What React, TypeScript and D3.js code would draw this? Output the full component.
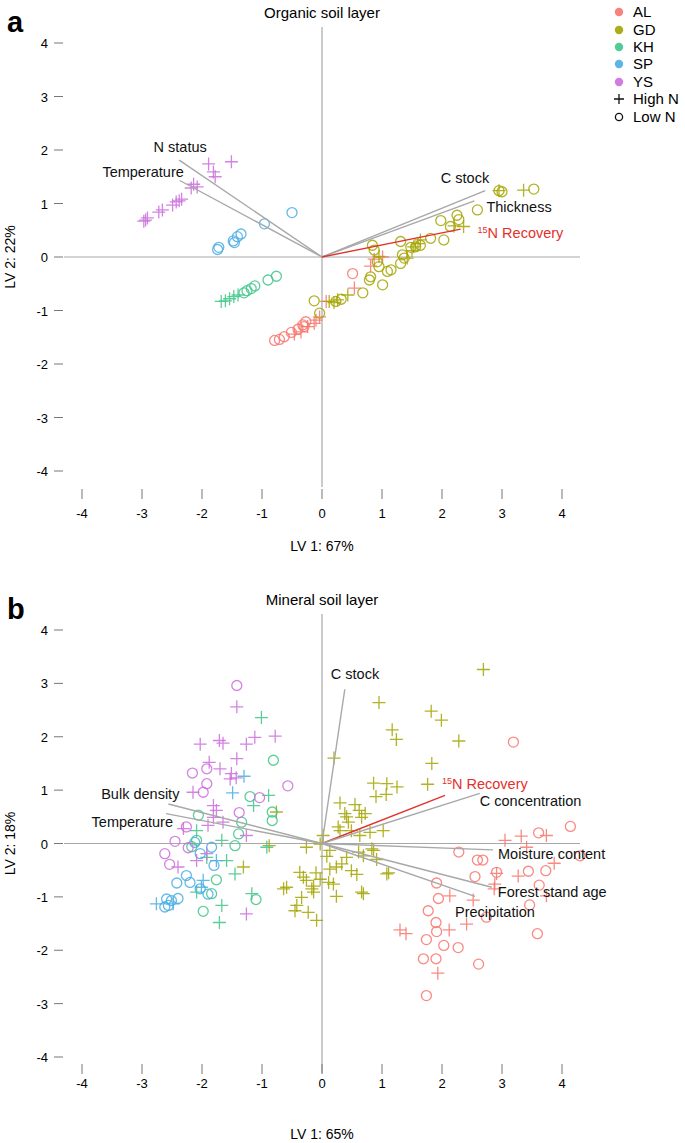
import React from 'react';
import * as d3 from 'd3';

type Pt = [number, number];

// ---- site names / colours ----
const sites = ['AL', 'GD', 'KH', 'SP', 'YS'];
const siteColors = ['#F8766D', '#A3A500', '#3FC58A', '#4AADE3', '#CB6FDC'];
const ticks = [-4, -3, -2, -1, 0, 1, 2, 3, 4];

// ---- organic soil layer scores ----
const orgALHigh: Pt[] = [[-0.46, -1.44], [-0.35, -1.40], [-0.24, -1.30], [-0.10, -1.18], [-0.04, -1.12], [-0.13, -1.24], [0.54, -0.58], [0.87, -0.04], [1.01, 0.0], [0.81, -0.17], [0.07, -0.83]];
const orgALLow: Pt[] = [[-0.79, -1.56], [-0.71, -1.54], [-0.63, -1.49], [-0.51, -1.41], [-0.40, -1.35], [-0.32, -1.27], [-0.27, -1.21], [0.51, -0.31], [-0.30, -1.30]];
const orgGDHigh: Pt[] = [[2.95, 1.24], [3.36, 1.25], [2.36, 0.57], [2.20, 0.58], [1.64, 0.32], [1.53, 0.19], [1.42, -0.02], [0.95, 0.01], [0.43, -0.71], [0.12, -0.83], [0.20, -0.85], [0.26, -0.80], [1.50, 0.12], [1.60, 0.25]];
const orgGDLow: Pt[] = [[2.95, 1.24], [3.00, 1.22], [3.53, 1.27], [2.59, 0.88], [2.25, 0.78], [2.28, 0.70], [1.98, 0.68], [2.14, 0.57], [2.03, 0.32], [1.81, 0.35], [1.31, 0.29], [0.84, 0.22], [0.87, 0.13], [0.92, -0.09], [0.95, -0.18], [1.34, 0.04], [1.37, -0.02], [1.31, -0.12], [1.15, -0.24], [1.09, -0.27], [1.01, -0.52], [0.81, -0.37], [0.79, -0.43], [0.68, -0.67], [0.32, -0.79], [0.23, -0.83], [1.56, 0.19], [1.48, 0.18], [1.64, 0.22], [-0.13, -0.82], [-0.04, -1.05]];
const orgKHHigh: Pt[] = [[-1.40, -0.71], [-1.47, -0.74], [-1.54, -0.78], [-1.61, -0.82], [-1.68, -0.83]];
const orgKHLow: Pt[] = [[-0.76, -0.36], [-0.90, -0.43], [-1.12, -0.54], [-1.18, -0.59], [-1.25, -0.63], [-1.30, -0.67]];
const orgSPLow: Pt[] = [[-0.50, 0.83], [-0.96, 0.62], [-1.35, 0.43], [-1.41, 0.38], [-1.48, 0.30], [-1.46, 0.27], [-1.72, 0.18], [-1.74, 0.14]];
const orgYSHigh: Pt[] = [[-1.89, 1.74], [-1.51, 1.78], [-1.81, 1.59], [-1.78, 1.50], [-2.14, 1.36], [-2.08, 1.31], [-2.18, 1.29], [-2.34, 1.08], [-2.43, 1.03], [-2.49, 0.97], [-2.66, 0.88], [-2.72, 0.84], [-2.91, 0.73], [-2.97, 0.67], [-2.94, 0.69], [-2.38, 1.05]];

const orgLoadNames = ['N status', 'Temperature', 'C stock', 'Thickness', '15N Recovery'];
const orgLoadX = [-2.38, -2.37, 2.72, 2.54, 2.31];
const orgLoadY = [1.81, 1.43, 1.24, 1.05, 0.52];

// ---- mineral soil layer scores ----
const minALHigh: Pt[] = [[3.05, 0.06], [3.32, 0.14], [3.41, -0.07], [3.74, 0.15], [3.87, -0.37], [2.91, -0.56], [3.27, -0.61], [2.87, -0.85], [3.74, -0.98], [2.13, -0.98], [2.52, -1.06], [1.30, -1.62], [1.40, -1.69], [2.12, -1.62], [2.41, -1.51], [1.93, -2.43], [2.88, -0.76]];
const minALLow: Pt[] = [[3.19, 1.90], [4.14, 0.32], [3.61, 0.20], [4.30, -0.23], [2.28, -0.16], [2.59, -0.31], [2.68, -0.31], [2.55, -0.62], [2.91, -0.54], [3.44, -0.52], [3.73, -0.51], [3.62, -0.78], [1.91, -0.74], [1.94, -1.03], [3.46, -1.15], [1.77, -1.26], [2.74, -1.38], [1.90, -1.48], [1.91, -1.65], [1.74, -1.80], [2.03, -1.91], [2.27, -1.95], [3.59, -1.69], [1.69, -2.16], [1.90, -2.16], [2.61, -2.26], [1.74, -2.85]];
const minGDHigh: Pt[] = [[2.69, 3.26], [0.95, 2.64], [1.82, 2.48], [1.99, 2.31], [1.17, 2.13], [1.24, 1.95], [2.28, 1.92], [0.20, 1.60], [1.83, 1.50], [0.86, 1.13], [1.08, 1.12], [1.25, 1.06], [1.76, 1.11], [0.90, 0.88], [1.07, 0.92], [0.30, 0.76], [0.55, 0.73], [0.62, 0.62], [0.41, 0.50], [0.66, 0.49], [0.38, 0.56], [0.72, 0.56], [0.44, 0.40], [0.27, 0.31], [0.30, 0.24], [0.49, 0.24], [0.63, 0.15], [0.80, 0.21], [1.02, 0.24], [0.02, 0.15], [-0.03, -0.01], [-0.26, -0.07], [0.13, -0.13], [0.08, -0.24], [0.41, -0.26], [0.61, -0.16], [0.69, -0.23], [0.86, -0.13], [0.91, -0.30], [0.83, -0.10], [1.08, -0.57], [1.11, -0.55], [0.24, -0.44], [0.33, -0.38], [0.49, -0.51], [0.58, -0.58], [0.13, -0.48], [-0.37, -0.54], [-0.31, -0.63], [-0.26, -0.69], [-0.03, -0.67], [0.11, -0.73], [0.19, -0.76], [-0.17, -0.85], [-0.14, -0.91], [0.24, -0.99], [0.69, -0.94], [0.66, -0.91], [-0.59, -0.82], [-0.64, -0.85], [-0.34, -1.01], [-0.42, -1.16], [-0.45, -1.26], [-0.23, -1.29], [-0.09, -1.44], [-0.88, -0.04], [-1.31, -0.44], [-0.76, 0.59], [-0.10, -0.55], [-0.14, -0.80]];
const minKHHigh: Pt[] = [[-1.01, 2.36], [-0.89, 0.90], [-1.14, 0.71], [-2.09, 0.24], [-0.92, -0.07], [-1.92, -0.26], [-1.59, -0.32], [-1.45, -0.57], [-2.09, -0.91], [-1.67, -1.16], [-1.71, -1.48], [-1.17, -0.94], [-1.67, 0.06]];
const minKHLow: Pt[] = [[-0.81, 1.56], [-1.20, 0.88], [-0.83, 0.59], [-0.83, 0.43], [-2.06, 0.53], [-1.34, 0.40], [-1.39, 0.18], [-1.45, -0.04], [-2.17, -0.06], [-1.76, -0.68], [-1.84, -0.94], [-1.98, -1.27], [-1.10, -1.05], [-2.09, 0.06]];
const minSPHigh: Pt[] = [[-1.30, 1.26], [-1.49, 0.95], [-1.98, -0.69], [-2.01, -0.82], [-2.76, -1.13], [-2.48, -1.13], [-1.76, -0.32]];
const minSPLow: Pt[] = [[-2.12, 0.02], [-1.84, -0.07], [-2.03, -0.19], [-1.80, -0.41], [-2.26, -0.60], [-2.42, -0.74], [-2.20, -0.73], [-2.03, -0.85], [-1.90, -0.95], [-2.59, -1.04], [-2.51, -1.07], [-2.40, -1.03], [-2.62, -1.19], [-2.56, -1.16]];
const minYSHigh: Pt[] = [[-1.42, 2.56], [-2.03, 1.86], [-1.71, 1.93], [-1.65, 1.88], [-1.26, 1.86], [-1.12, 1.99], [-0.78, 2.01], [-1.88, 1.52], [-1.70, 1.40], [-1.42, 1.59], [-1.51, 1.31], [-1.53, 1.21], [-1.43, 1.23], [-2.15, 0.96], [-1.81, 0.71], [-1.76, 0.62], [-1.81, 0.49], [-1.65, 0.40], [-2.31, 0.28], [-1.90, 0.34], [-1.26, 0.15], [-1.92, -0.19], [-2.09, -0.32], [-2.40, -0.44], [-1.26, -1.32]];
const minYSLow: Pt[] = [[-1.42, 2.96], [-2.16, 1.32], [-1.92, 1.40], [-1.92, 1.12], [-1.98, 0.96], [-0.57, 1.08], [-1.04, 0.86], [-1.38, 0.58], [-2.26, 0.31], [-2.45, 0.04], [-2.23, -0.08], [-2.62, -0.19], [-2.54, -0.39]];

const minLoadNames = ['C stock', '15N Recovery', 'C concentration', 'Moisture content', 'Forest stand age', 'Precipitation', 'Bulk density', 'Temperature'];
const minLoadX = [0.38, 2.05, 2.63, 2.85, 2.83, 2.55, -2.56, -2.60];
const minLoadY = [2.89, 0.90, 0.94, -0.12, -0.82, -0.99, 0.74, 0.56];

// label placement (pixels, relative to loading end)
const orgLabelPos: Record<string, [number, number, string]> = {
  'N status': [1, -8, 'middle'],
  Temperature: [4, -3, 'end'],
  'C stock': [4, -8, 'end'],
  Thickness: [12, 11, 'start'],
  '15N Recovery': [17, 9, 'start'],
};
const minLabelPos: Record<string, [number, number, string]> = {
  'C stock': [-14, -10, 'start'],
  '15N Recovery': [-3, -6, 'start'],
  'C concentration': [0, 13, 'start'],
  'Moisture content': [5, 9, 'start'],
  'Forest stand age': [6, 10, 'start'],
  Precipitation: [-20, 21, 'start'],
  'Bulk density': [11, -5, 'end'],
  Temperature: [7, 13, 'end'],
};

const FONT = '"Liberation Sans", Arial, Helvetica, sans-serif';
const GRAY = '#a8a8a8';
const RED = '#e3312b';

interface Group { site: number; high: boolean; pts: Pt[] }

interface PanelProps {
  top: number; // pixel y of score 4
  bottom: number; // pixel y of score -4
  tickGap: number;
  labelGap: number;
  titleGap: number;
  letter: string;
  title: string;
  xLabel: string;
  yLabel: string;
  groups: Group[];
  loadNames: string[];
  loadX: number[];
  loadY: number[];
  labelPos: Record<string, [number, number, string]>;
}

const plusPath = (x: number, y: number, s: number) => `M${x - s},${y}H${x + s}M${x},${y - s}V${y + s}`;

const Panel: React.FC<PanelProps> = (p) => {
  const x = d3.scaleLinear().domain([-4, 4]).range([82, 562]);
  const y = d3.scaleLinear().domain([-4, 4]).range([p.bottom, p.top]);
  const tickTop = y(-4) + p.tickGap;
  return (
    <g>
      <text x={7} y={p.top - 11} fontSize={29} fontWeight="bold" fontFamily={FONT}>{p.letter}</text>
      <text x={x(0)} y={p.top - 25} fontSize={15} textAnchor="middle" fontFamily={FONT}>{p.title}</text>

      {/* crosshair */}
      <line x1={x(0)} x2={x(0)} y1={y(4.3)} y2={y(-4.3)} stroke={GRAY} strokeWidth={1.2} />
      <line x1={x(-4.3)} x2={x(4.3)} y1={y(0)} y2={y(0)} stroke={GRAY} strokeWidth={1.2} />

      {/* y axis */}
      {ticks.map((t) => (
        <g key={'y' + t}>
          <line x1={54} x2={63} y1={y(t)} y2={y(t)} stroke="#777" strokeWidth={1} />
          <text x={48} y={y(t) + 5} fontSize={13} textAnchor="end" fontFamily={FONT}>{t}</text>
        </g>
      ))}
      <text transform={`translate(15,${y(0)}) rotate(-90)`} fontSize={14} textAnchor="middle" fontFamily={FONT}>{p.yLabel}</text>

      {/* x axis */}
      {ticks.map((t) => (
        <g key={'x' + t}>
          <line x1={x(t)} x2={x(t)} y1={tickTop} y2={tickTop + 10} stroke="#777" strokeWidth={1} />
          <text x={x(t)} y={tickTop + p.labelGap} fontSize={13} textAnchor="middle" fontFamily={FONT}>{t}</text>
        </g>
      ))}
      <text x={x(0)} y={tickTop + p.titleGap} fontSize={14} textAnchor="middle" fontFamily={FONT}>{p.xLabel}</text>

      {/* points */}
      {p.groups.map((g, gi) => (
        <g key={gi} stroke={siteColors[g.site]} strokeOpacity={0.85} fill="none" strokeWidth={1.3}>
          {g.pts.map((d, i) =>
            g.high
              ? <path key={i} d={plusPath(x(d[0]), y(d[1]), 6.5)} />
              : <circle key={i} cx={x(d[0])} cy={y(d[1])} r={5} />
          )}
        </g>
      ))}

      {/* loadings */}
      {p.loadNames.map((n, i) => {
        const red = n === '15N Recovery';
        const ex = x(p.loadX[i]);
        const ey = y(p.loadY[i]);
        const [dx, dy, anchor] = p.labelPos[n];
        return (
          <g key={n + i}>
            <line x1={x(0)} y1={y(0)} x2={ex} y2={ey} stroke={red ? RED : GRAY} strokeWidth={1.4} />
            <text x={ex + dx} y={ey + dy} fontSize={14.5} fill={red ? RED : '#111'} textAnchor={anchor as any} fontFamily={FONT}>
              {red ? (<><tspan fontSize={9} dy={-5}>15</tspan><tspan dy={5}>N Recovery</tspan></>) : n}
            </text>
          </g>
        );
      })}
    </g>
  );
};

const Legend: React.FC = () => {
  const lx = 619;
  const rows = [12, 30, 47, 64, 82];
  return (
    <g fontFamily={FONT} fontSize={15}>
      {sites.map((s, i) => (
        <g key={s}>
          <circle cx={lx} cy={rows[i]} r={4.2} fill={siteColors[i]} fillOpacity={0.9} />
          <text x={lx + 14} y={rows[i] + 5}>{s}</text>
        </g>
      ))}
      <path d={plusPath(lx, 99, 5)} stroke="#111" strokeWidth={1.3} />
      <text x={lx + 14} y={104}>High N</text>
      <circle cx={lx} cy={117} r={3.6} fill="none" stroke="#111" strokeWidth={1.3} />
      <text x={lx + 14} y={122}>Low N</text>
    </g>
  );
};

const organicGroups: Group[] = [
  { site: 0, high: true, pts: orgALHigh },
  { site: 0, high: false, pts: orgALLow },
  { site: 1, high: true, pts: orgGDHigh },
  { site: 1, high: false, pts: orgGDLow },
  { site: 2, high: true, pts: orgKHHigh },
  { site: 2, high: false, pts: orgKHLow },
  { site: 3, high: false, pts: orgSPLow },
  { site: 4, high: true, pts: orgYSHigh },
];
const mineralGroups: Group[] = [
  { site: 0, high: true, pts: minALHigh },
  { site: 0, high: false, pts: minALLow },
  { site: 1, high: true, pts: minGDHigh },
  { site: 2, high: true, pts: minKHHigh },
  { site: 2, high: false, pts: minKHLow },
  { site: 3, high: true, pts: minSPHigh },
  { site: 3, high: false, pts: minSPLow },
  { site: 4, high: true, pts: minYSHigh },
  { site: 4, high: false, pts: minYSLow },
];

export default function App() {
  return (
    <svg width={685} height={1143} style={{ position: 'absolute', left: 0, top: 0, background: '#fff' }}>
      <Panel top={43} bottom={471} tickGap={18} labelGap={29} titleGap={62} letter="a" title="Organic soil layer" xLabel="LV 1: 67%" yLabel="LV 2: 22%"
        groups={organicGroups} loadNames={orgLoadNames} loadX={orgLoadX} loadY={orgLoadY} labelPos={orgLabelPos} />
      <Panel top={630} bottom={1057} tickGap={7} labelGap={24} titleGap={75} letter="b" title="Mineral soil layer" xLabel="LV 1: 65%" yLabel="LV 2: 18%"
        groups={mineralGroups} loadNames={minLoadNames} loadX={minLoadX} loadY={minLoadY} labelPos={minLabelPos} />
      <Legend />
    </svg>
  );
}
